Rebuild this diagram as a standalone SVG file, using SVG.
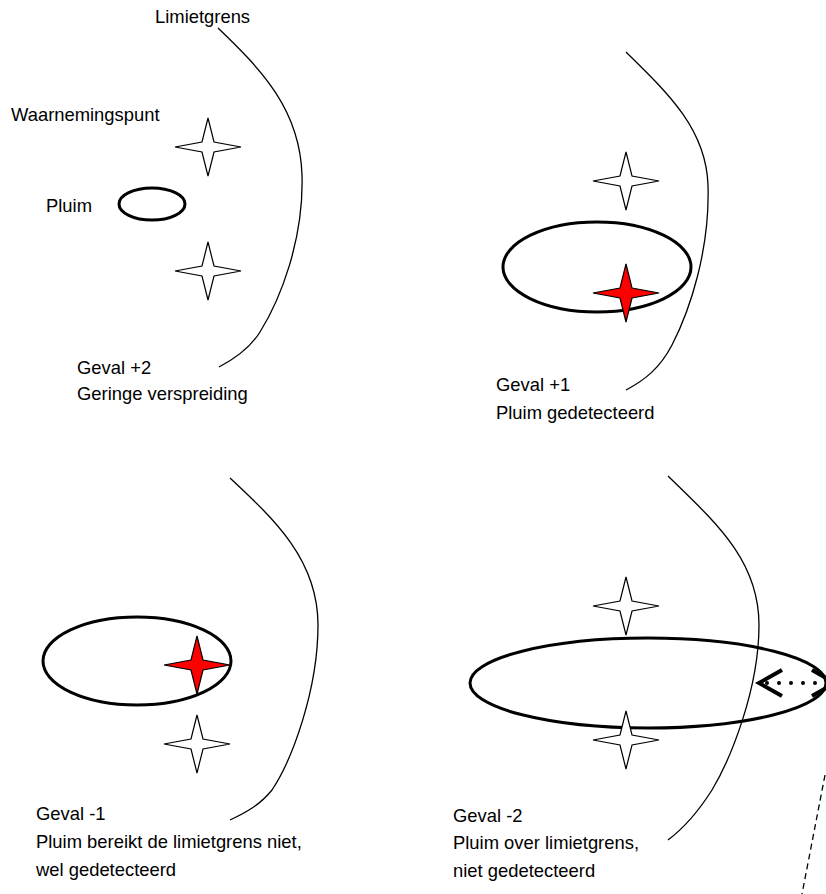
<svg xmlns="http://www.w3.org/2000/svg" xmlns:xlink="http://www.w3.org/1999/xlink" width="826" height="894" viewBox="0 0 826 894">
<style>
text{font-family:"Liberation Sans",Arial,sans-serif;font-size:18.4px;fill:#000}
.limit{fill:none;stroke:#000;stroke-width:1.3}
.plume{fill:none;stroke:#000;stroke-width:3}
.star{fill:#fff;stroke:#000;stroke-width:1.2}
.star.hit{fill:#f00}
</style>
<defs>
<path id="st" d="M0,-29 L6,-5 L33,0 L6,5 L0,29 L-6,5 L-33,0 L-6,-5 Z"/>
</defs>
<rect width="826" height="894" fill="#fff"/>
<g id="connectors">
<path class="limit" d="M218,28 C262,70 300,110 302,175 C304,240 280,300 260,332 C250,348 236,358 219,367"/>
<path class="limit" d="M626,52 C670,95 706,130 708,185 C710,250 690,310 672,345 C660,368 645,380 626,390"/>
<path class="limit" d="M230,478 C275,520 318,560 318,625 C318,690 292,760 272,790 C260,805 245,813 230,820"/>
<path class="limit" d="M668,476 C715,522 759,560 759,625 C759,690 730,760 712,790 C698,812 684,828 668,840"/>
<path fill="none" stroke="#000" stroke-width="1.3" stroke-dasharray="6 4" d="M825,775 L802,894"/>
</g>
<g id="panel1">
<text x="155" y="23">Limietgrens</text>
<text x="11" y="121">Waarnemingspunt</text>
<text x="46" y="212">Pluim</text>
<use class="star" xlink:href="#st" x="208" y="147"/>
<ellipse class="plume" cx="152" cy="204" rx="33" ry="16"/>
<use class="star" xlink:href="#st" x="208" y="271"/>
<text x="77" y="374">Geval +2</text>
<text x="77" y="400">Geringe verspreiding</text>
</g>
<g id="panel2">
<use class="star" xlink:href="#st" x="626" y="181"/>
<ellipse class="plume" cx="597" cy="267" rx="94" ry="45"/>
<use class="star hit" xlink:href="#st" x="626" y="293"/>
<text x="496" y="391">Geval +1</text>
<text x="496" y="419">Pluim gedetecteerd</text>
</g>
<g id="panel3">
<ellipse class="plume" cx="137" cy="661" rx="94" ry="44"/>
<use class="star hit" xlink:href="#st" x="197" y="665"/>
<use class="star" xlink:href="#st" x="197" y="744"/>
<text x="36" y="820">Geval -1</text>
<text x="36" y="848">Pluim bereikt de limietgrens niet,</text>
<text x="36" y="876">wel gedetecteerd</text>
</g>
<g id="panel4">
<use class="star" xlink:href="#st" x="626" y="606"/>
<ellipse class="plume" cx="648" cy="683" rx="178" ry="45"/>
<use class="star" xlink:href="#st" x="626" y="740"/>
<g fill="none" stroke="#000" stroke-width="4">
<polyline points="782,670 759,683 782,696"/>
<polyline points="812,670 835,683 812,696"/>
<line x1="767" y1="683" x2="816" y2="683" stroke-linecap="round" stroke-dasharray="0 12"/>
</g>
<text x="453" y="822">Geval -2</text>
<text x="453" y="849">Pluim over limietgrens,</text>
<text x="453" y="877">niet gedetecteerd</text>
</g>
</svg>
